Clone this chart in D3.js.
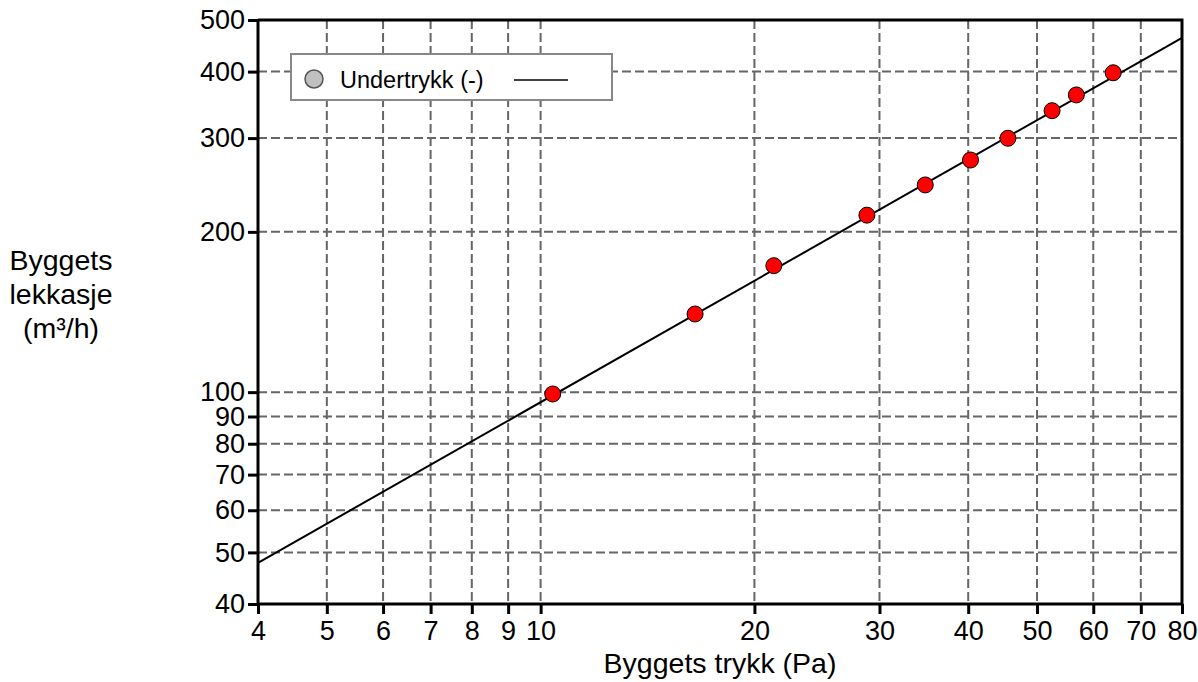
<!DOCTYPE html>
<html>
<head>
<meta charset="utf-8">
<script src="https://cdn.jsdelivr.net/npm/d3@7"></script>
<style>
  body { margin: 0; background: #fff; }
  svg text { font-family: "Liberation Sans", Arial, Helvetica, sans-serif; fill: #000; }
</style>
</head>
<body>
<div id="chart"></div>
<script>
const width = 1198
const height = 682
const margin = { left: 258, right: 16, top: 20, bottom: 78 }

// measured points (pressure Pa, leakage m3/h)
const pressure = [10.4, 16.5, 21.3, 28.8, 34.8, 40.3, 45.5, 52.5, 56.8, 64.0]
const leakage = [99.2, 140.2, 172.8, 215, 245, 272.9, 299.8, 337.8, 361.6, 398]

// fitted line end points
const fit_x = [4, 80]
const fit_y = [47.8, 463]

const x_ticks = [4, 5, 6, 7, 8, 9, 10, 20, 30, 40, 50, 60, 70, 80]
const y_ticks = [40, 50, 60, 70, 80, 90, 100, 200, 300, 400, 500]

const legend_label = 'Undertrykk (-)'
const x_title = 'Byggets trykk (Pa)'
const y_title = ['Byggets', 'lekkasje', '(m³/h)']

const svg = d3.select('#chart')
    .append('svg')
    .attr('width', width)
    .attr('height', height)

const x = d3.scaleLog()
    .domain([4, 80])
    .range([margin.left, width - margin.right])
const y = d3.scaleLog()
    .domain([40, 500])
    .range([height - margin.bottom, margin.top])

const x0 = x.range()[0], x1 = x.range()[1]
const y0 = y.range()[0], y1 = y.range()[1]

// grid
const grid = svg.append('g')
grid.selectAll('line.vx')
    .data(x_ticks.slice(1, -1))
    .enter()
    .append('line')
    .attr('x1', d => x(d))
    .attr('x2', d => x(d))
    .attr('y1', y1)
    .attr('y2', y0)
grid.selectAll('line.hy')
    .data(y_ticks.slice(1, -1))
    .enter()
    .append('line')
    .attr('x1', x0)
    .attr('x2', x1)
    .attr('y1', d => y(d))
    .attr('y2', d => y(d))
grid.selectAll('line')
    .attr('stroke', '#666')
    .attr('stroke-width', 2)
    .attr('stroke-dasharray', '9,4')

// fitted line
const line_generator = d3.line()
    .x(d => x(d[0]))
    .y(d => y(d[1]))
svg.append('path')
    .attr('d', line_generator(d3.zip(fit_x, fit_y)))
    .attr('stroke', 'black')
    .attr('stroke-width', 2)
    .attr('fill', 'none')

// points
svg.selectAll('circle.pt')
    .data(d3.zip(pressure, leakage))
    .enter()
    .append('circle')
    .attr('class', 'pt')
    .attr('cx', d => x(d[0]))
    .attr('cy', d => y(d[1]))
    .attr('r', 8)
    .attr('fill', '#ff0000')
    .attr('stroke', 'black')
    .attr('stroke-width', 1)

// frame top / right
svg.append('path')
    .attr('d', `M${x0},${y1}H${x1}V${y0}`)
    .attr('stroke', 'black')
    .attr('stroke-width', 3)
    .attr('fill', 'none')

// axes
const x_axis = svg.append('g')
    .attr('transform', `translate(0,${y0})`)
    .call(d3.axisBottom(x).tickValues(x_ticks).tickFormat(d3.format('d')).tickSize(10).tickPadding(7))
const y_axis = svg.append('g')
    .attr('transform', `translate(${x0},0)`)
    .call(d3.axisLeft(y).tickValues(y_ticks).tickFormat(d3.format('d')).tickSize(10).tickPadding(3))

for (const ax of [x_axis, y_axis]) {
    ax.select('.domain').attr('stroke', 'black').attr('stroke-width', 3)
    ax.selectAll('.tick line').attr('stroke', 'black').attr('stroke-width', 3)
    ax.selectAll('.tick text')
        .attr('font-family', '"Liberation Sans", Arial, sans-serif')
        .attr('font-size', 27)
        .attr('fill', 'black')
}
x_axis.select('.domain').attr('d', `M${x0},0H${x1}`)
y_axis.select('.domain').attr('d', `M0,${y0}V${y1}`)

// legend
const legend = svg.append('g')
legend.append('rect')
    .attr('x', 291)
    .attr('y', 54)
    .attr('width', 321)
    .attr('height', 46)
    .attr('fill', 'white')
    .attr('stroke', '#888')
    .attr('stroke-width', 2)
legend.append('circle')
    .attr('cx', 314)
    .attr('cy', 79)
    .attr('r', 9)
    .attr('fill', '#c0c0c0')
    .attr('stroke', '#555')
    .attr('stroke-width', 1.5)
legend.append('text')
    .attr('x', 340)
    .attr('y', 88)
    .attr('font-size', 23.5)
    .text(legend_label)
legend.append('line')
    .attr('x1', 514)
    .attr('x2', 568)
    .attr('y1', 80)
    .attr('y2', 80)
    .attr('stroke', 'black')
    .attr('stroke-width', 1.5)

// titles
svg.append('text')
    .attr('x', (x0 + x1) / 2)
    .attr('y', 673)
    .attr('text-anchor', 'middle')
    .attr('font-size', 28.5)
    .text(x_title)

svg.append('text')
    .attr('text-anchor', 'middle')
    .attr('font-size', 28.5)
    .selectAll('tspan')
    .data(y_title)
    .enter()
    .append('tspan')
    .attr('x', 61)
    .attr('y', (d, i) => 270 + i * 34)
    .text(d => d)
</script>
</body>
</html>
